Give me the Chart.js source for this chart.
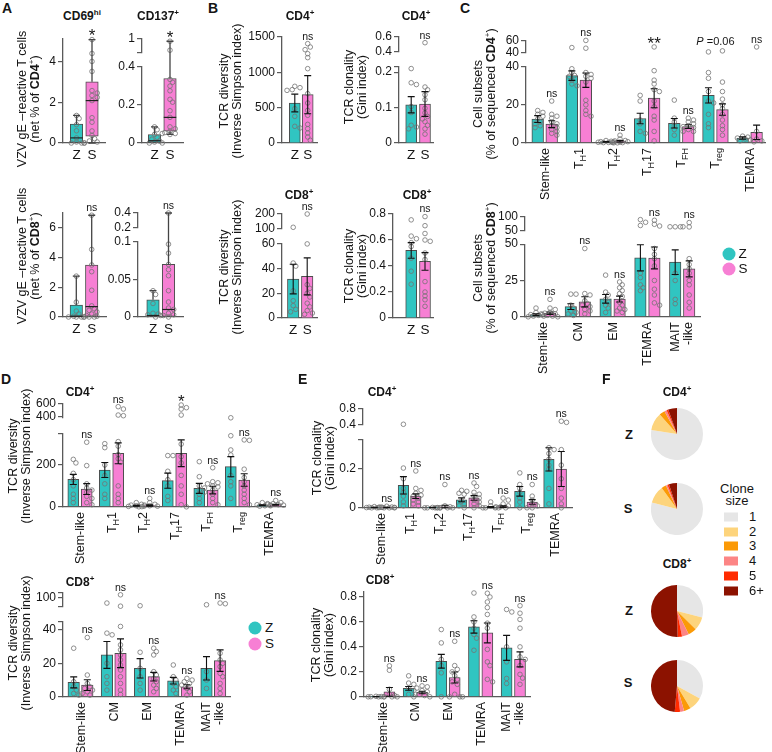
<!DOCTYPE html>
<html><head><meta charset="utf-8">
<script src="https://cdn.jsdelivr.net/npm/chart.js@4.4.1/dist/chart.umd.min.js"></script>
<style>
html,body{margin:0;padding:0;background:#fff}
body{width:772px;height:752px;position:relative;overflow:hidden;font-family:"Liberation Sans",Arial,sans-serif;color:#151515}
canvas{position:absolute}
.t{position:absolute;white-space:nowrap}
.let{font-weight:bold;font-size:14px;line-height:14px}
.ttl{font-weight:bold;font-size:12px;line-height:13px;transform:translate(-50%,-50%)}
sup{font-size:8px;vertical-align:5px;line-height:0}
.yt{font-size:12.5px;line-height:13px;text-align:center;transform:translate(-50%,-50%) rotate(-90deg)}
.xl{font-size:12.5px;line-height:13px;text-align:right;transform-origin:0 0;transform:rotate(-90deg) translate(-100%,-50%)}
.xl sub{font-size:9px;vertical-align:-3px;line-height:0}
.dot{position:absolute;width:13px;height:13px;border-radius:50%;transform:translate(-50%,-50%)}
.lg{font-size:13.5px;line-height:14px;transform:translate(0,-50%)}
.sw{position:absolute;width:14px;height:9px;transform:translate(0,-50%)}
.pl{font-weight:bold;font-size:13px;transform:translate(-50%,-50%)}
</style></head><body>
<script>
// ================= DATA =================
const groupNames = ['Z', 'S'];

// ---- Panel A (box plots) : [min, q1, median, q3, max]
const aCD4cd69Z = [1.35, 1.2, 0.9, 0.6, 0.25, 0.05, 0, 0, 0];
const aCD4cd69S = [5.07, 4.39, 4.0, 3.51, 2.57, 2.45, 2.33, 2.24, 2.08, 1.24, 1.02, 0.59, 0.37, 0.21, 0.1, 0.05, 0];
const aCD4cd69BoxZ = [0, 0, 0.25, 0.93, 1.35];
const aCD4cd69BoxS = [0, 0.33, 2.08, 3.0, 5.07];
const aCD4cd137Z = [0.085, 0.07, 0.045, 0.03, 0.02, 0.01, 0.005, 0, 0];
const aCD4cd137S = [0.98, 0.9, 0.335, 0.32, 0.30, 0.275, 0.23, 0.215, 0.17, 0.135, 0.085, 0.075, 0.062, 0.055, 0.05, 0.05, 0.045];
const aCD4cd137BoxZ = [0, 0, 0.012, 0.045, 0.085];
const aCD4cd137BoxS = [0.045, 0.062, 0.135, 0.34, 0.98];
const aCD8cd69Z = [2.75, 1.0, 0.4, 0.2, 0.05, 0, 0, 0, 0];
const aCD8cd69S = [6.85, 4.55, 3.5, 3.05, 1.8, 0.75, 0.55, 0.45, 0.35, 0.2, 0.1, 0.05, 0, 0, 0];
const aCD8cd69BoxZ = [0, 0, 0.05, 0.8, 2.75];
const aCD8cd69BoxS = [0, 0, 0.7, 3.5, 6.85];
const aCD8cd137Z = [0.035, 0.03, 0.018, 0.005, 0.004, 0.003, 0.002, 0];
const aCD8cd137S = [0.4, 0.097, 0.085, 0.07, 0.063, 0.055, 0.035, 0.02, 0.012, 0.01, 0.005, 0.003, 0.002, 0];
const aCD8cd137BoxZ = [0, 0, 0.002, 0.023, 0.035];
const aCD8cd137BoxS = [0, 0, 0.01, 0.07, 0.4];
const aSig = ['*', '*', 'ns', 'ns'];

// ---- Panel B (mean, SEM, points)
const bDiv4Mean = [566, 684], bDiv4Sem = [125, 270];
const bDiv4Z = [802, 783, 755, 745, 486, 377, 236, 212];
const bDiv4S = [1406, 1358, 1321, 1264, 1208, 1052, 698, 566, 462, 392, 264, 203, 142, 85, 38];
const bClo4Mean = [0.108, 0.11], bClo4Sem = [0.023, 0.035];
const bClo4Z = [0.21, 0.17, 0.165, 0.103, 0.086, 0.05, 0.045, 0.04];
const bClo4S = [0.52, 0.158, 0.15, 0.136, 0.122, 0.098, 0.085, 0.075, 0.068, 0.06, 0.05, 0.04, 0.025];
const bDiv8Mean = [31.5, 33.7], bDiv8Sem = [12, 15];
const bDiv8Z = [107, 44.5, 42, 22, 14, 10, 7, 5];
const bDiv8S = [200, 60, 27, 24, 20, 17, 12, 9, 6, 4, 3];
const bClo8Mean = [0.52, 0.435], bClo8Sem = [0.06, 0.068];
const bClo8Z = [0.755, 0.63, 0.61, 0.58, 0.55, 0.46, 0.36, 0.26];
const bClo8S = [0.78, 0.71, 0.65, 0.6, 0.59, 0.5, 0.45, 0.28, 0.2, 0.17, 0.14, 0.09];

// ---- category labels
const cats4 = ['Stem-like', 'T<sub>H</sub>1', 'T<sub>H</sub>2', 'T<sub>H</sub>17', 'T<sub>FH</sub>', 'T<sub>reg</sub>', 'TEMRA'];
const cats8 = ['Stem-like', 'CM', 'EM', 'TEMRA', 'MAIT<br>-like'];

// ---- Panel C: cell subsets (% of sequenced)
const cZMean4 = [12.5, 35.4, 0.5, 12.8, 10.3, 25, 2.5];
const cZSem4 = [1.8, 2.5, 0.2, 2.8, 2.5, 4, 0.6];
const cSMean4 = [9.8, 33, 0.8, 23.5, 8.5, 17.5, 5.5];
const cSSem4 = [1.8, 3.8, 0.4, 5, 1, 3, 3.8];
const cZPts4 = [
  [17, 16, 15, 14, 12.5, 11, 10, 9, 8],
  [48.6, 39, 37, 35.5, 35, 33, 31, 30],
  [1.2, 0.8, 0.6, 0.5, 0.3, 0.2, 0.1, 0],
  [25, 22, 12, 10, 6, 5],
  [22.5, 13, 11, 9, 7, 4],
  [41.1, 37, 34, 27, 22, 21, 15, 10, 8],
  [3.5, 3, 2.5, 2, 1.5, 1]
];
const cSPts4 = [
  [22, 15, 14, 13, 11, 10, 9, 8, 7, 6, 5, 4],
  [61, 47.5, 37, 36, 35, 34, 32, 22.4, 20, 17, 15, 14],
  [4, 2, 1.2, 1, 0.6, 0.4, 0.2, 0.1, 0],
  [49.7, 38, 33, 31, 28, 27, 22, 19, 14, 12, 6, 1],
  [13, 12, 11, 10, 9, 8.5, 8, 7, 6, 6],
  [42.9, 32, 27, 23, 20, 18, 15, 12, 9, 7, 4],
  [49.7, 6, 2, 1, 0.5]
];
const cSig4 = ['ns', 'ns', 'ns', '**', 'ns', 'P =0.06', 'ns'];

const cZMean8 = [1.5, 7, 12.4, 40.6, 37.6];
const cZSem8 = [0.6, 2, 3, 9, 8.5];
const cSMean8 = [2.5, 10.3, 12.2, 40.5, 33];
const cSSem8 = [0.8, 3.5, 2, 7.5, 5.5];
const cZPts8 = [
  [6, 3, 2, 1.5, 1, 0.5, 0.5, 0],
  [15.6, 15.6, 8, 6, 4, 3, 2, 1],
  [28.7, 17, 15, 12, 10, 8, 6, 3],
  [90, 80, 68, 30, 27, 22, 20, 18],
  [63, 63, 63, 63, 30, 25, 12, 9]
];
const cSPts8 = [
  [12, 6, 5, 3, 2.5, 2, 1.5, 1, 0.5, 0],
  [47, 16, 15, 11, 9, 8, 7, 5, 4, 2],
  [24, 22, 20, 18, 16, 14, 10, 8, 6, 5, 4, 3],
  [87.5, 72.5, 66, 47, 43, 40, 35, 25, 19, 15, 9.6, 8],
  [79, 62.5, 40, 36, 33, 30, 25, 22, 15, 10, 6]
];
const cSig8 = ['ns', 'ns', 'ns', 'ns', 'ns'];

// ---- Panel D: TCR diversity by subset
const dZMean4 = [131, 176, 5, 125, 88, 192, 8];
const dZSem4 = [24, 36, 2, 36, 24, 48, 2];
const dSMean4 = [85, 256, 6, 256, 80, 128, 10];
const dSSem4 = [26, 50, 3, 64, 18, 30, 2.5];
const dZPts4 = [
  [227, 210, 160, 130, 100, 60, 40, 20],
  [302, 283, 200, 150, 110, 60, 40],
  [20, 12, 8, 5, 3, 2, 0],
  [245, 245, 170, 130, 100, 50, 30],
  [216, 144, 100, 90, 80, 70, 60, 40, 20],
  [383, 340, 272, 248, 150, 120, 100, 40],
  [20, 15, 10, 8, 5, 3]
];
const dSPts4 = [
  [309, 197, 110, 90, 80, 70, 50, 40, 20, 10],
  [558, 521, 426, 416, 312, 290, 250, 230, 213, 100, 60, 40, 20],
  [40, 20, 12, 8, 5, 3, 1],
  [584, 542, 520, 426, 300, 240, 210, 150, 100, 60, 10, 0],
  [187, 120, 115, 110, 100, 95, 80, 60, 40, 20, 10],
  [320, 318, 180, 140, 120, 100, 80, 60, 40, 20, 10],
  [30, 20, 15, 12, 10, 8, 5]
];
const dSig4 = ['ns', 'ns', 'ns', '*', 'ns', 'ns', 'ns'];

const dZMean8 = [8.6, 25, 17, 9.6, 17];
const dZSem8 = [3.3, 8, 5.8, 2, 7];
const dSMean8 = [7, 26, 12, 6, 21.6];
const dSSem8 = [3.2, 8.6, 2.6, 1.2, 6.4];
const dZPts8 = [
  [29, 9, 6, 4, 2, 1],
  [87.5, 38, 37, 20, 12, 8, 4],
  [81.5, 26.6, 17, 12, 8, 4],
  [19, 12, 10, 8, 6, 4, 2],
  [83.75, 15, 10, 5]
];
const dSPts8 = [
  [35.4, 13, 8, 6, 5, 4, 3, 2, 1],
  [106, 80.5, 42, 31, 28, 25, 22, 19, 16, 12, 8, 4, 1.4],
  [29, 27, 25, 15, 13, 11, 9, 7, 5, 3],
  [11, 10, 9, 8, 7, 5, 3, 1],
  [87.5, 86, 26, 22, 20, 18, 14, 12, 8, 5, 2]
];
const dSig8 = ['ns', 'ns', 'ns', 'ns', 'ns'];

// ---- Panel E: TCR clonality by subset
const eZMean4 = [0.002, 0.116, 0.001, 0.041, 0.004, 0.085, 0.25];
const eZSem4 = [0.001, 0.045, 0.001, 0.01, 0.003, 0.025, 0.06];
const eSMean4 = [0.002, 0.06, 0.005, 0.051, 0.006, 0.03, 0.2];
const eSSem4 = [0.001, 0.012, 0.008, 0.012, 0.004, 0.012, 0.09];
const eZPts4 = [
  [0.006, 0.004, 0.003, 0.002, 0.001, 0, 0],
  [0.4, 0.205, 0.15, 0.1, 0.08, 0.06, 0.03, 0.01],
  [0.002, 0.001, 0, 0, 0, 0],
  [0.09, 0.085, 0.075, 0.07, 0.035, 0.02, 0.01, 0],
  [0.03, 0.01, 0.005, 0, 0, 0],
  [0.18, 0.12, 0.1, 0.08, 0.05, 0.03, 0],
  [0.31, 0.3, 0.28, 0.25, 0.22, 0.2, 0.1, 0.02]
];
const eSPts4 = [
  [0.008, 0.004, 0.003, 0.002, 0.001, 0, 0, 0],
  [0.19, 0.1, 0.09, 0.075, 0.065, 0.06, 0.05, 0.04, 0.03, 0.02, 0.01],
  [0.12, 0.01, 0.005, 0, 0, 0, 0],
  [0.128, 0.11, 0.08, 0.07, 0.06, 0.05, 0.04, 0.03, 0.02, 0.01, 0],
  [0.05, 0.04, 0.02, 0.01, 0.005, 0, 0],
  [0.12, 0.06, 0.04, 0.02, 0.01, 0, 0],
  [0.48, 0.45, 0.3, 0.22, 0.15, 0.1, 0.05, 0.02, 0]
];
const eSig4 = ['ns', 'ns', 'ns', 'ns', 'ns', 'ns', 'ns'];

const eZMean8 = [0.002, 0.067, 0.285, 0.56, 0.392];
const eZSem8 = [0.001, 0.015, 0.055, 0.05, 0.1];
const eSMean8 = [0.04, 0.035, 0.155, 0.512, 0.3];
const eSSem8 = [0.035, 0.01, 0.044, 0.08, 0.06];
const eZPts8 = [
  [0.004, 0.002, 0.001, 0, 0, 0],
  [0.168, 0.11, 0.1, 0.07, 0.05, 0.02, 0],
  [0.539, 0.432, 0.3, 0.25, 0.192, 0],
  [0.832, 0.64, 0.6, 0.55, 0.5, 0.47, 0.373],
  [0.7, 0.68, 0.4, 0.28, 0.147, 0.107]
];
const eSPts8 = [
  [0.248, 0.213, 0.06, 0.02, 0.01, 0, 0, 0],
  [0.088, 0.08, 0.07, 0.05, 0.04, 0.02, 0.01, 0],
  [0.445, 0.25, 0.22, 0.2, 0.17, 0.14, 0.12, 0.1, 0.02, 0, 0, 0],
  [0.83, 0.8, 0.76, 0.715, 0.66, 0.59, 0.55, 0.38, 0.28, 0.25, 0.14, 0.12],
  [0.73, 0.67, 0.62, 0.55, 0.4, 0.32, 0.3, 0.25, 0.18, 0.15, 0.1]
];
const eSig8 = ['ns', 'ns', 'ns', 'ns', 'ns'];

// ---- Panel F: clone size distribution (%)
const cloneSizes = ['1', '2', '3', '4', '5', '6+'];
const pieCD4Z = [77.5, 11, 3.5, 1.5, 1, 5.5];
const pieCD4S = [79, 11, 3, 1, 1, 5];
const pieCD8Z = [29, 8.3, 5.3, 4.3, 2.7, 50.4];
const pieCD8S = [33, 8.4, 4.2, 2.5, 3.3, 48.6];

// ================= STYLE =================
const TEAL = '#30c5c1', PINK = '#f77fd4', EDGE = '#4d4d4d', AXIS = '#5a5a5a', PTC = '#737373', INK = '#151515';
const FONT = '"Liberation Sans", Arial, sans-serif';
const PIE_COLORS = ['#e6e6e6', '#fdd47c', '#fb9a07', '#fc8585', '#ff2b00', '#8c1200'];

// ================= HELPERS =================
function addText(html, cls, x, y, extra) {
  const d = document.createElement('div');
  d.className = 't ' + cls; d.innerHTML = html;
  d.style.left = x + 'px'; d.style.top = y + 'px';
  if (extra) Object.assign(d.style, extra);
  document.body.appendChild(d); return d;
}

function swarm(vals, toPx, step, minD) {
  const idx = vals.map((v, i) => i).sort((a, b) => vals[b] - vals[a]);
  const placed = [], off = new Array(vals.length).fill(0);
  const cands = [0, step, -step, 2 * step, -2 * step, 3 * step, -3 * step];
  for (const i of idx) {
    const y = toPx(vals[i]);
    let best = 0, bestScore = Infinity;
    for (const c of cands) {
      let ov = 0;
      for (const p of placed) { const dd = Math.hypot(p.x - c, p.y - y); if (dd < minD) ov += minD - dd; }
      if (ov === 0) { best = c; break; }
      const sc = ov * 10 + Math.abs(c) * 0.01;
      if (sc < bestScore) { bestScore = sc; best = c; }
    }
    placed.push({ x: best, y }); off[i] = best;
  }
  return off;
}

function drawSig(ctx, txt, x, y) {
  ctx.fillStyle = INK; ctx.textBaseline = 'middle';
  if (txt[0] === '*') {
    ctx.textAlign = 'center'; ctx.font = '17px ' + FONT; ctx.fillText(txt, x, y + 4);
  } else if (txt[0] === 'P') {
    const rest = txt.slice(1);
    ctx.font = 'italic 11px ' + FONT; const wP = ctx.measureText('P').width;
    ctx.font = '11px ' + FONT; const wR = ctx.measureText(rest).width;
    const x0 = x - (wP + wR) / 2; ctx.textAlign = 'left';
    ctx.font = 'italic 11px ' + FONT; ctx.fillText('P', x0, y);
    ctx.font = '11px ' + FONT; ctx.fillText(rest, x0 + wP, y);
  } else {
    ctx.textAlign = 'center'; ctx.font = '10.5px ' + FONT; ctx.fillText(txt, x, y);
  }
}

function build(g, d) {
  const YW = 44, PT = 14, PR = 10, XH = g.xh || 9;
  const L = Math.round(g.plotL), R = Math.round(g.plotR), B = Math.round(g.bottom);
  const hi = g.high || null;
  const topY = Math.round(hi ? hi.top : g.lowTop);
  const lowH = B - g.lowTop, gapH = hi ? g.lowTop - hi.bottom : 0, highH = hi ? hi.bottom - hi.top : 0;
  const W = YW + (R - L) + PR, H = PT + (B - topY) + XH;
  const cv = document.createElement('canvas');
  cv.width = W; cv.height = H;
  Object.assign(cv.style, { left: (L - YW) + 'px', top: (topY - PT) + 'px', width: W + 'px', height: H + 'px' });
  document.body.appendChild(cv);
  const lowMax = g.low.max;
  const hsU = g.hs / g.spacing, off = [-hsU, hsU];
  const toPx = v => (hi && v > lowMax) ? -(lowH + gapH) - (v - hi.min) / (hi.max - hi.min) * highH : -v / lowMax * lowH;
  const cols = [TEAL, PINK];
  const datasets = [];
  for (let gi = 0; gi < 2; gi++) {
    if (d.mode === 'box') {
      const bx = d.box[gi];
      datasets.push({ type: 'bar', data: [{ x: off[gi], y: [bx[1], bx[3]] }], backgroundColor: cols[gi], borderColor: EDGE,
        borderWidth: 1, borderSkipped: false, barThickness: g.barW, grouped: false, yAxisID: 'yLow', xAxisID: 'x', order: 5 });
    } else {
      datasets.push({ type: 'bar', data: d.mean[gi].map((m, i) => ({ x: i + off[gi], y: m })), backgroundColor: cols[gi], borderColor: EDGE,
        borderWidth: 1, barThickness: g.barW, grouped: false, yAxisID: 'yLow', xAxisID: 'x', order: 5 });
    }
  }
  for (let gi = 0; gi < 2; gi++) {
    const lowPts = [], highPts = [];
    d.pts[gi].forEach((arr, i) => {
      const o = swarm(arr, toPx, 2.6, 3.8);
      arr.forEach((v, k) => {
        const p = { x: i + off[gi] + o[k] / g.spacing, y: v };
        (hi && v > lowMax ? highPts : lowPts).push(p);
      });
    });
    const ptDs = (data, axis) => ({ type: 'line', showLine: false, data, yAxisID: axis, xAxisID: 'x', pointRadius: 2.3,
      pointBorderWidth: 0.8, pointBorderColor: PTC, pointBackgroundColor: 'rgba(255,255,255,0)', order: 1, clip: false });
    datasets.push(ptDs(lowPts, 'yLow'));
    if (hi && highPts.length) datasets.push(ptDs(highPts, 'yHigh'));
  }
  const tickFont = { family: FONT, size: 12 };
  const yScale = (min, max, spec, weight, sw) => {
    const ticks = spec.ticks, labels = spec.labels || spec.ticks.map(String);
    const s = {
      type: 'linear', position: 'left', weight, min, max, bounds: 'data',
      grid: { display: true, drawOnChartArea: false, drawTicks: true, tickLength: 5, color: AXIS, lineWidth: 1.2 },
      border: { display: true, color: AXIS, width: 1.3 },
      ticks: { autoSkip: false, font: tickFont, color: INK, padding: 2,
        callback: (v) => { const k = ticks.indexOf(v); return k >= 0 ? labels[k] : ''; } },
      afterBuildTicks: ax => { ax.ticks = ticks.map(v => ({ value: v })); },
      afterFit: ax => { ax.width = YW; }
    };
    if (hi) { s.stack = 'st'; s.stackWeight = sw; }
    return s;
  };
  const scales = {
    x: { type: 'linear', position: 'bottom', min: (L - g.c0) / g.spacing, max: (R - g.c0) / g.spacing, bounds: 'data', offset: false,
      grid: { display: false, drawTicks: false, offset: false }, border: { display: true, color: AXIS, width: 1.3 },
      ticks: d.xTicks ? { autoSkip: false, font: { family: FONT, size: 13.5 }, color: INK, padding: 4, maxRotation: 0,
        callback: (v) => v < 0 ? groupNames[0] : groupNames[1] } : { display: false },
      afterBuildTicks: ax => { if (d.xTicks) ax.ticks = off.map(v => ({ value: v })); },
      afterFit: ax => { ax.height = XH; } },
    yLow: yScale(0, lowMax, g.low, 1, lowH)
  };
  if (hi) {
    scales.yGap = { type: 'linear', position: 'left', display: false, stack: 'st', stackWeight: gapH, weight: 2 };
    scales.yHigh = yScale(hi.min, hi.max, hi, 3, highH);
  }
  const extras = {
    id: 'extras',
    afterDatasetsDraw(chart) {
      const ctx = chart.ctx, xs = chart.scales.x, yl = chart.scales.yLow, yh = chart.scales.yHigh;
      const py = v => (yh && v > lowMax) ? yh.getPixelForValue(v) : yl.getPixelForValue(v);
      ctx.save();
      if (d.mode === 'box') {
        for (let gi = 0; gi < 2; gi++) {
          const [mn, q1, md, q3, mx] = d.box[gi];
          const x = xs.getPixelForValue(off[gi]);
          ctx.strokeStyle = '#222'; ctx.lineWidth = 1.2;
          ctx.beginPath(); ctx.moveTo(x - g.barW / 2, py(md)); ctx.lineTo(x + g.barW / 2, py(md)); ctx.stroke();
          ctx.strokeStyle = '#444'; ctx.lineWidth = 1.3;
          ctx.beginPath(); ctx.moveTo(x, py(q3)); ctx.lineTo(x, py(mx));
          ctx.moveTo(x - 3.5, py(mx)); ctx.lineTo(x + 3.5, py(mx));
          if (mn < q1) { ctx.moveTo(x, py(q1)); ctx.lineTo(x, py(mn)); ctx.moveTo(x - 3.5, py(mn)); ctx.lineTo(x + 3.5, py(mn)); }
          ctx.stroke();
        }
      } else {
        ctx.strokeStyle = '#111'; ctx.lineWidth = 1.1;
        for (let gi = 0; gi < 2; gi++) {
          d.mean[gi].forEach((m, i) => {
            const s = d.sem[gi][i], x = xs.getPixelForValue(i + off[gi]);
            const yT = py(m + s), yB = py(Math.max(m - s, 0));
            ctx.beginPath(); ctx.moveTo(x, yT); ctx.lineTo(x, yB);
            ctx.moveTo(x - 3.5, yT); ctx.lineTo(x + 3.5, yT);
            ctx.moveTo(x - 3.5, yB); ctx.lineTo(x + 3.5, yB); ctx.stroke();
          });
        }
      }
      d.sig.forEach((txt, i) => {
        const mid = txt[0] === 'P';
        const gis = mid ? [0, 1] : [1];
        let top = Infinity;
        gis.forEach(gi => {
          d.pts[gi][i].forEach(v => { top = Math.min(top, py(v)); });
          if (d.mode === 'box') top = Math.min(top, py(d.box[gi][4]));
          else top = Math.min(top, py(d.mean[gi][i] + d.sem[gi][i]));
        });
        const x = xs.getPixelForValue(i + (mid ? 0 : off[1]));
        drawSig(ctx, txt, x, top - (mid ? 9 : 7));
      });
      ctx.restore();
    }
  };
  const chart = new Chart(cv, {
    type: 'bar',
    data: { datasets },
    options: { responsive: false, animation: false, devicePixelRatio: 1, events: [],
      layout: { padding: { top: PT, right: PR, left: 0, bottom: 0 } },
      plugins: { legend: { display: false }, tooltip: { enabled: false } },
      scales },
    plugins: [extras]
  });
  if (d.cats) {
    d.cats.forEach((lab, i) => {
      const px = (L - YW) + chart.scales.x.getPixelForValue(i);
      addText(lab, 'xl', px, B + 5);
    });
  }
  return chart;
}

// ================= GEOMETRY (page px) =================
const gA1 = { plotL: 63, plotR: 105, bottom: 143, lowTop: 38.5, low: { max: 5.1, ticks: [0, 2, 4] }, c0: 84.25, spacing: 30, hs: 7.75, barW: 12.5, xh: 20 };
const gA2 = { plotL: 142, plotR: 183, bottom: 143, lowTop: 67.3, low: { max: 0.4, ticks: [0, 0.2, 0.4] },
  high: { min: 0.88, max: 1, top: 39.3, bottom: 52.7, ticks: [0.88, 1], labels: ['', '1'] }, c0: 162.25, spacing: 30, hs: 7.75, barW: 12.5, xh: 20 };
const gA3 = { plotL: 63, plotR: 106, bottom: 316.5, lowTop: 212.7, low: { max: 7, ticks: [0, 2, 4, 6] }, c0: 84, spacing: 30, hs: 7.7, barW: 12.5, xh: 20 };
const gA4 = { plotL: 138.3, plotR: 182.7, bottom: 316.5, lowTop: 241.7, low: { max: 0.1, ticks: [0, 0.05, 0.1] },
  high: { min: 0.2, max: 0.4, top: 212.7, bottom: 227.3, ticks: [0.2, 0.4] }, c0: 160.75, spacing: 30, hs: 7.75, barW: 12.5, xh: 20 };
const gB1 = { plotL: 282, plotR: 317, bottom: 142.7, lowTop: 37.3, low: { max: 1500, ticks: [0, 500, 1000, 1500] }, c0: 301.25, spacing: 30, hs: 6.45, barW: 11, xh: 20 };
const gB2 = { plotL: 399.3, plotR: 433.3, bottom: 142.7, lowTop: 66.6, low: { max: 0.215, ticks: [0, 0.1, 0.2, 0.215], labels: ['0', '0.1', '0.2', ''] },
  high: { min: 0.4, max: 0.6, top: 36.7, bottom: 51, ticks: [0.4, 0.6] }, c0: 418.1, spacing: 30, hs: 6.9, barW: 11, xh: 20 };
const gB3 = { plotL: 282, plotR: 317.3, bottom: 317.7, lowTop: 243.9, low: { max: 60, ticks: [0, 20, 40, 60] },
  high: { min: 100, max: 200, top: 214, bottom: 228.3, ticks: [100, 200] }, c0: 300.2, spacing: 30, hs: 7, barW: 11.5, xh: 20 };
const gB4 = { plotL: 393.3, plotR: 433.3, bottom: 317.7, lowTop: 214.3, low: { max: 0.8, ticks: [0, 0.2, 0.4, 0.6, 0.8] }, c0: 418.1, spacing: 30, hs: 6.9, barW: 11, xh: 20 };
const gC1 = { plotL: 526, plotR: 765, bottom: 142.7, lowTop: 66.7, low: { max: 40, ticks: [0, 20, 40] },
  high: { min: 40, max: 60, top: 40.7, bottom: 52.3, ticks: [40, 60] }, c0: 544.7, spacing: 34.15, hs: 7, barW: 11.7 };
const gC2 = { plotL: 525, plotR: 700, bottom: 317.3, lowTop: 244, low: { max: 50, ticks: [0, 25, 50] },
  high: { min: 50, max: 100, top: 216.7, bottom: 230, ticks: [50, 100] }, c0: 543, spacing: 34.8, hs: 7, barW: 11.5 };
const gD1 = { plotL: 63, plotR: 285, bottom: 506.7, lowTop: 433.7, low: { max: 350, ticks: [0, 200, 350], labels: ['0', '200', ''] },
  high: { min: 380, max: 600, top: 404, bottom: 418, ticks: [400, 600] }, c0: 80, spacing: 31.5, hs: 6.7, barW: 11 };
const gD2 = { plotL: 63.3, plotR: 230, bottom: 696.7, lowTop: 621.7, low: { max: 45, ticks: [0, 20, 40, 45], labels: ['0', '20', '40', ''] },
  high: { min: 80, max: 110, top: 593.3, bottom: 606.7, ticks: [80, 100, 110], labels: ['', '100', ''] }, c0: 80.5, spacing: 33.2, hs: 6.8, barW: 11.5 };
const gE1 = { plotL: 363.3, plotR: 572, bottom: 508.3, lowTop: 440, low: { max: 0.35, ticks: [0, 0.2, 0.35], labels: ['0', '0.2', ''] },
  high: { min: 0.4, max: 0.8, top: 409, bottom: 424.3, ticks: [0.4, 0.8] }, c0: 380.5, spacing: 29.1, hs: 6.2, barW: 10.5 };
const gE2 = { plotL: 364, plotR: 529.6, bottom: 696.7, lowTop: 591.5, low: { max: 0.84, ticks: [0, 0.2, 0.4, 0.6, 0.8] }, c0: 382.7, spacing: 32.65, hs: 6.7, barW: 11 };

// ================= BUILD =================
build(gA1, { mode: 'box', box: [aCD4cd69BoxZ, aCD4cd69BoxS], pts: [[aCD4cd69Z], [aCD4cd69S]], sig: [aSig[0]], xTicks: true });
build(gA2, { mode: 'box', box: [aCD4cd137BoxZ, aCD4cd137BoxS], pts: [[aCD4cd137Z], [aCD4cd137S]], sig: [aSig[1]], xTicks: true });
build(gA3, { mode: 'box', box: [aCD8cd69BoxZ, aCD8cd69BoxS], pts: [[aCD8cd69Z], [aCD8cd69S]], sig: [aSig[2]], xTicks: true });
build(gA4, { mode: 'box', box: [aCD8cd137BoxZ, aCD8cd137BoxS], pts: [[aCD8cd137Z], [aCD8cd137S]], sig: [aSig[3]], xTicks: true });

build(gB1, { mode: 'bar', mean: [[bDiv4Mean[0]], [bDiv4Mean[1]]], sem: [[bDiv4Sem[0]], [bDiv4Sem[1]]], pts: [[bDiv4Z], [bDiv4S]], sig: ['ns'], xTicks: true });
build(gB2, { mode: 'bar', mean: [[bClo4Mean[0]], [bClo4Mean[1]]], sem: [[bClo4Sem[0]], [bClo4Sem[1]]], pts: [[bClo4Z], [bClo4S]], sig: ['ns'], xTicks: true });
build(gB3, { mode: 'bar', mean: [[bDiv8Mean[0]], [bDiv8Mean[1]]], sem: [[bDiv8Sem[0]], [bDiv8Sem[1]]], pts: [[bDiv8Z], [bDiv8S]], sig: ['ns'], xTicks: true });
build(gB4, { mode: 'bar', mean: [[bClo8Mean[0]], [bClo8Mean[1]]], sem: [[bClo8Sem[0]], [bClo8Sem[1]]], pts: [[bClo8Z], [bClo8S]], sig: ['ns'], xTicks: true });

build(gC1, { mode: 'bar', mean: [cZMean4, cSMean4], sem: [cZSem4, cSSem4], pts: [cZPts4, cSPts4], sig: cSig4, cats: cats4 });
build(gC2, { mode: 'bar', mean: [cZMean8, cSMean8], sem: [cZSem8, cSSem8], pts: [cZPts8, cSPts8], sig: cSig8, cats: cats8 });
build(gD1, { mode: 'bar', mean: [dZMean4, dSMean4], sem: [dZSem4, dSSem4], pts: [dZPts4, dSPts4], sig: dSig4, cats: cats4 });
build(gD2, { mode: 'bar', mean: [dZMean8, dSMean8], sem: [dZSem8, dSSem8], pts: [dZPts8, dSPts8], sig: dSig8, cats: cats8 });
build(gE1, { mode: 'bar', mean: [eZMean4, eSMean4], sem: [eZSem4, eSSem4], pts: [eZPts4, eSPts4], sig: eSig4, cats: cats4 });
build(gE2, { mode: 'bar', mean: [eZMean8, eSMean8], sem: [eZSem8, eSSem8], pts: [eZPts8, eSPts8], sig: eSig8, cats: cats8 });

// ---- pies
function pie(values, cx, cy) {
  const S = 52;
  const cv = document.createElement('canvas'); cv.width = S; cv.height = S;
  Object.assign(cv.style, { left: (cx - S / 2) + 'px', top: (cy - S / 2) + 'px', width: S + 'px', height: S + 'px' });
  document.body.appendChild(cv);
  new Chart(cv, { type: 'pie',
    data: { labels: cloneSizes, datasets: [{ data: values, backgroundColor: PIE_COLORS, borderWidth: 0, hoverOffset: 0, offset: 0 }] },
    options: { responsive: false, animation: false, devicePixelRatio: 1, events: [], layout: { padding: 0 },
      plugins: { legend: { display: false }, tooltip: { enabled: false } } } });
}
pie(pieCD4Z, 677, 434);
pie(pieCD4S, 677, 508.5);
pie(pieCD8Z, 677, 610.5);
pie(pieCD8S, 677, 686);

// ================= TEXT =================
[['A', 2, 1], ['B', 208, 1], ['C', 460, 1], ['D', 1, 372], ['E', 298, 372], ['F', 602, 372]].forEach(([t, x, y]) => addText(t, 'let', x, y));

const titles = [
  ['CD69<sup>hi</sup>', 82, 16], ['CD137<sup>+</sup>', 158, 16],
  ['CD4<sup>+</sup>', 300, 16], ['CD4<sup>+</sup>', 416, 16],
  ['CD8<sup>+</sup>', 299, 195], ['CD8<sup>+</sup>', 417, 195],
  ['CD4<sup>+</sup>', 80, 392], ['CD8<sup>+</sup>', 80, 582],
  ['CD4<sup>+</sup>', 382, 392], ['CD8<sup>+</sup>', 380, 580],
  ['CD4<sup>+</sup>', 677, 392], ['CD8<sup>+</sup>', 677, 564]
];
titles.forEach(([t, x, y]) => addText(t, 'ttl', x, y));

const yTitles = [
  ['VZV gE –reactive T cells<br>(net % of <b>CD4</b><sup>+</sup>)', 29, 99],
  ['VZV gE –reactive T cells<br>(net % of <b>CD8</b><sup>+</sup>)', 29, 256],
  ['TCR diversity<br>(Inverse Simpson index)', 231, 91],
  ['TCR clonality<br>(Gini index)', 355.5, 87],
  ['TCR diversity<br>(Inverse Simpson index)', 231, 267],
  ['TCR clonality<br>(Gini index)', 355.5, 266],
  ['Cell subsets<br>(% of sequenced <b>CD4</b><sup>+</sup>)', 484.5, 94],
  ['Cell subsets<br>(% of sequenced <b>CD8</b><sup>+</sup>)', 484.5, 268],
  ['TCR diversity<br>(Inverse Simpson index)', 20, 456],
  ['TCR diversity<br>(Inverse Simpson index)', 20, 643],
  ['TCR clonality<br>(Gini index)', 323.5, 458],
  ['TCR clonality<br>(Gini index)', 322.5, 645]
];
yTitles.forEach(([t, x, y]) => addText(t, 'yt', x, y));

// Z / S legends
function zsLegend(x, y1, y2) {
  const a = document.createElement('div'); a.className = 'dot'; a.style.left = x + 'px'; a.style.top = y1 + 'px'; a.style.background = TEAL; document.body.appendChild(a);
  const b = document.createElement('div'); b.className = 'dot'; b.style.left = x + 'px'; b.style.top = y2 + 'px'; b.style.background = PINK; document.body.appendChild(b);
  addText(groupNames[0], 'lg', x + 10, y1); addText(groupNames[1], 'lg', x + 10, y2);
}
zsLegend(728.5, 253.5, 268.5);
zsLegend(255, 628, 643.5);

// pie row labels
[['Z', 629, 434], ['S', 628, 508], ['Z', 629, 609.5], ['S', 628, 682]].forEach(([t, x, y]) => addText(t, 'pl', x, y));

// clone size legend
addText('Clone<br>size', 'ttl', 737, 494.5, { fontWeight: 'normal', fontSize: '13px', lineHeight: '12.5px', textAlign: 'center' });
cloneSizes.forEach((s, i) => {
  const y = 517 + i * 14.7;
  const sw = document.createElement('div'); sw.className = 'sw'; sw.style.left = '724px'; sw.style.top = y + 'px'; sw.style.background = PIE_COLORS[i]; document.body.appendChild(sw);
  addText(s, 'lg', 749, y, { fontSize: '13px' });
});
</script>
</body></html>
